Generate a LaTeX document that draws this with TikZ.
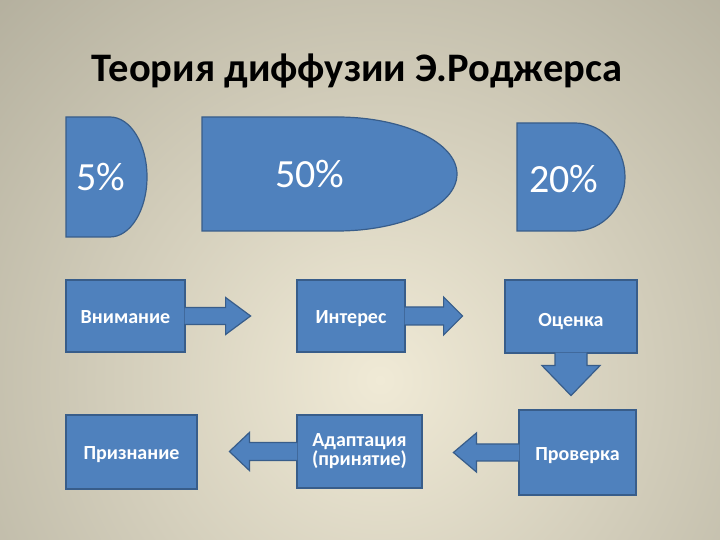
\documentclass[tikz,border=0pt]{standalone}
\usepackage{fontspec}
\setmainfont{Carlito}
\usetikzlibrary{calc}

\definecolor{slideblue}{HTML}{4F81BD}
\definecolor{slideedge}{HTML}{385D8A}
\definecolor{bglight}{HTML}{F0EAD6}
\definecolor{bgdark}{HTML}{878474}

\tikzset{
  box/.style={draw=slideedge, fill=slideblue, line width=1.2pt, text=white,
    font=\fontsize{20}{19}\selectfont\bfseries, align=center, inner sep=0pt,
    text height=18, text depth=2},
  blk/.style={draw=slideedge, fill=slideblue, line width=1.2pt, line join=miter},
  pct/.style={text=white, font=\fontsize{40}{42}\selectfont, inner sep=0pt}
}

\begin{document}
\begin{tikzpicture}[x=1pt,y=1pt]
    \useasboundingbox (0,0) rectangle (720,540);
    \begin{scope}
        \clip (0,0) rectangle (720,540);
        \shade[inner color=bglight, outer color=bgdark] (380,160) circle (950);
    \end{scope}

    \node[font=\fontsize{40.5}{44}\selectfont\bfseries] (title) at (357,469) {Теория диффузии Э.Роджерса};

    % shares
    \filldraw[blk] (66,303) -- (66,423) -- (110,423) arc[start angle=90, end angle=-90, x radius=37, y radius=60] -- cycle;
    \node[pct] (p5) at (101,363) {5\%};
    \filldraw[blk] (202,309) -- (202,423) -- (337,423) arc[start angle=90, end angle=-90, x radius=120, y radius=57] -- cycle;
    \node[pct] (p50) at (310,366) {50\%};
    \filldraw[blk] (517,309) -- (517,417) -- (575,417) arc[start angle=90, end angle=-90, x radius=50, y radius=54] -- cycle;
    \node[pct] (p20) at (564,361) {20\%};

    % stages
    \node[box, minimum width=119, minimum height=72] (vn) at (125.5,224) {Внимание};
    \node[box, minimum width=108, minimum height=72] (in) at (351,224) {Интерес};
    \node[box, minimum width=132, minimum height=73, text height=22] (oc) at (571,223.5) {Оценка};
    \node[box, minimum width=131, minimum height=74] (pr) at (131.5,88) {Признание};
    \node[box, minimum width=125, minimum height=73, text height=, text depth=] (ad) at (359.5,88.5) {Адаптация\\(принятие)};
    \node[box, minimum width=117, minimum height=85] (pv) at (577.5,87.5) {Проверка};

    \coordinate (vn tip) at ($(vn.east)+(65,0)$);
    \coordinate (in tip) at ($(in.east)+(57,0)$);
    \coordinate (oc tip) at ($(oc.south)+(0,-42)$);
    \coordinate (ad tip) at ($(ad.west)+(-67,0)$);
    \coordinate (pv tip) at ($(pv.west)+(-65,0)$);

    \filldraw[blk] ([shift={(-1,8.5)}]vn.east) -- ++(41,0) -- ++(0,10) -- (vn tip) -- ++(-25,-18.5) -- ++(0,10) -- ++(-41,0);
    \filldraw[blk] ([shift={(-1,9)}]in.east) -- ++(39,0) -- ++(0,10) -- (in tip) -- ++(-19,-19) -- ++(0,10) -- ++(-39,0);
    \filldraw[blk] ([shift={(16,1)}]oc.south) -- ++(0,-13) -- ++(13,0) -- (oc tip) -- ++(-29,30) -- ++(13,0) -- ++(0,13);
    \filldraw[blk] ([shift={(1,9)}]ad.west) -- ++(-48,0) -- ++(0,10) -- (ad tip) -- ++(20,-19) -- ++(0,10) -- ++(48,0);
    \filldraw[blk] ([shift={(1,8.5)}]pv.west) -- ++(-43,0) -- ++(0,11) -- (pv tip) -- ++(23,-19.5) -- ++(0,11) -- ++(43,0);
\end{tikzpicture}
\end{document}
